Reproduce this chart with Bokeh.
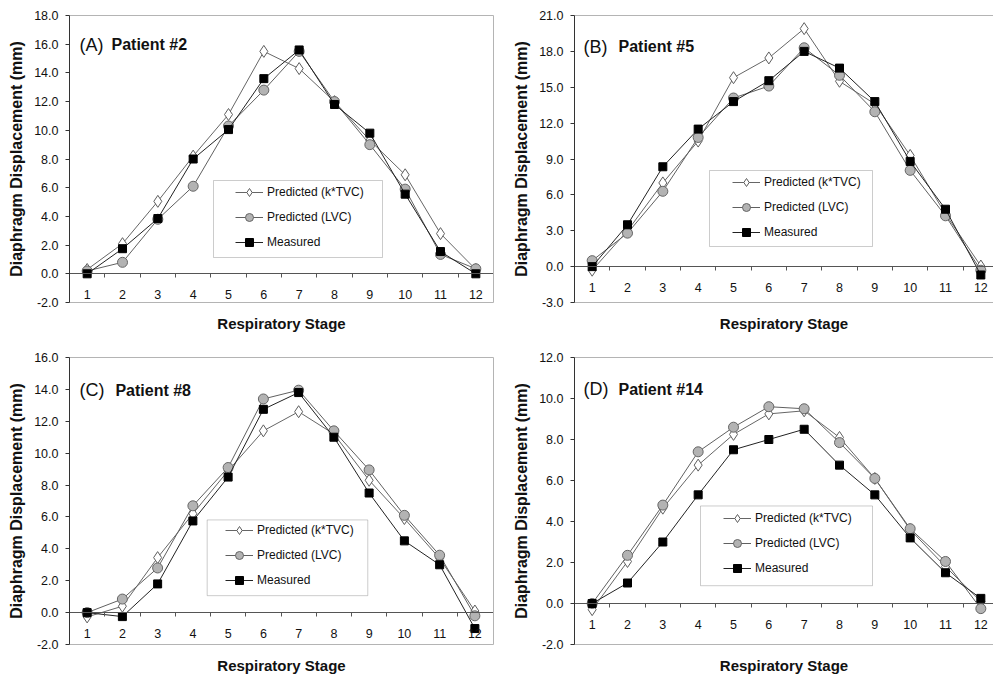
from bokeh.plotting import figure
from bokeh.models import (LinearAxis, FixedTicker, PrintfTickFormatter, Legend,
                          LegendItem, Label, BoxAnnotation, Range1d)
from bokeh.layouts import gridplot
from bokeh.embed import file_html
from bokeh.resources import INLINE

# ---------------- data ----------------
stages = list(range(1, 13))
stage_boundaries = [s + 0.5 for s in range(1, 12)]

panel_letters = ["(A)", "(B)", "(C)", "(D)"]
patients = ["Patient #2", "Patient #5", "Patient #8", "Patient #14"]
series_names = ["Predicted (k*TVC)", "Predicted (LVC)", "Measured"]

y_min = [-2.0, -3.0, -2.0, -2.0]
y_max = [18.0, 21.0, 16.0, 12.0]
y_step = [2.0, 3.0, 2.0, 2.0]

ktvc_p2 = [0.3, 2.1, 5.05, 8.2, 11.1, 15.5, 14.3, 12.0, 9.3, 6.9, 2.8, 0.3]
lvc_p2 = [0.2, 0.8, 3.8, 6.1, 10.3, 12.8, 15.5, 12.0, 9.0, 5.9, 1.35, 0.35]
meas_p2 = [0.0, 1.75, 3.85, 8.0, 10.05, 13.6, 15.6, 11.8, 9.8, 5.55, 1.55, 0.0]

ktvc_p5 = [-0.3, 3.0, 7.0, 10.5, 15.8, 17.45, 19.9, 15.5, 13.6, 9.3, 4.4, 0.05]
lvc_p5 = [0.5, 2.8, 6.3, 10.8, 14.1, 15.1, 18.3, 16.0, 12.95, 8.05, 4.25, -0.3]
meas_p5 = [0.0, 3.5, 8.35, 11.5, 13.8, 15.55, 18.0, 16.6, 13.8, 8.8, 4.8, -0.7]

ktvc_p8 = [-0.27, 0.4, 3.45, 6.2, 8.9, 11.4, 12.6, 11.2, 8.3, 5.9, 3.4, 0.1]
lvc_p8 = [0.0, 0.85, 2.8, 6.7, 9.1, 13.4, 13.95, 11.4, 8.95, 6.1, 3.6, -0.2]
meas_p8 = [0.0, -0.25, 1.8, 5.75, 8.5, 12.75, 13.8, 11.0, 7.5, 4.5, 3.0, -1.0]

ktvc_p14 = [-0.3, 2.05, 4.65, 6.75, 8.25, 9.25, 9.4, 8.1, 6.1, 3.6, 1.8, 0.1]
lvc_p14 = [0.0, 2.35, 4.8, 7.4, 8.6, 9.6, 9.5, 7.85, 6.1, 3.65, 2.05, -0.25]
meas_p14 = [0.0, 1.0, 3.0, 5.3, 7.5, 8.0, 8.5, 6.75, 5.3, 3.2, 1.5, 0.25]

series = [
    (ktvc_p2, lvc_p2, meas_p2),
    (ktvc_p5, lvc_p5, meas_p5),
    (ktvc_p8, lvc_p8, meas_p8),
    (ktvc_p14, lvc_p14, meas_p14),
]

# ---------------- layout (pixels) ----------------
FONT = "Liberation Sans"
PX_PER_STAGE = 424 / 12.0

layouts = [
    dict(w=497, h=338, bl=69, br=4, bt=15, bb=36, right=True,
         leg=(166, 50), box=(144, 313, 45, 122), tx=(10, 42), ty=29),
    dict(w=496, h=338, bl=77, br=0, bt=15, bb=36, right=False,
         leg=(158, 60), box=(135, 298, 56, 132), tx=(9, 44), ty=31),
    dict(w=497, h=338, bl=68, br=4, bt=19, bb=31, right=True,
         leg=(156, 54), box=(138, 299, 49, 125), tx=(10, 46), ty=33),
    dict(w=496, h=338, bl=77, br=0, bt=19, bb=31, right=False,
         leg=(149, 66), box=(126, 298, 59, 139), tx=(9, 44), ty=32),
]


def blank_axis(ax, color):
    ax.ticker = FixedTicker(ticks=[])
    ax.axis_line_color = color
    ax.major_tick_line_color = None
    ax.minor_tick_line_color = None
    ax.major_tick_out = 0
    ax.major_tick_in = 0
    ax.major_label_standoff = 0


def make_panel(i):
    L = layouts[i]
    fw = L["w"] - L["bl"] - L["br"]
    fh = L["h"] - L["bt"] - L["bb"]
    x0 = 0.5
    x1 = x0 + fw / PX_PER_STAGE
    y0, y1 = y_min[i], y_max[i]
    ppy = fh / (y1 - y0)

    p = figure(width=L["w"], height=L["h"], output_backend="svg",
               toolbar_location=None, x_range=Range1d(x0, x1),
               y_range=Range1d(y0, y1),
               min_border_left=L["bl"], min_border_right=L["br"],
               min_border_top=L["bt"], min_border_bottom=L["bb"])
    p.outline_line_color = None
    p.xgrid.visible = False
    p.ygrid.visible = False
    p.background_fill_color = "white"
    p.border_fill_color = "white"

    # bottom axis: frame line + title only
    bx = p.xaxis[0]
    blank_axis(bx, "#b4b4b4")
    bx.axis_label = "Respiratory Stage"
    bx.axis_label_text_font = FONT
    bx.axis_label_text_font_style = "bold"
    bx.axis_label_text_font_size = "15px"
    bx.axis_label_text_color = "#111111"
    bx.axis_label_standoff = 12

    # left axis
    ya = p.yaxis[0]
    ticks = []
    v = y0
    while v <= y1 + 1e-9:
        ticks.append(round(v, 6))
        v += y_step[i]
    ya.ticker = FixedTicker(ticks=ticks)
    ya.formatter = PrintfTickFormatter(format="%.1f")
    ya.axis_line_color = "#333333"
    ya.major_tick_line_color = "#333333"
    ya.minor_tick_line_color = None
    ya.major_tick_out = 4
    ya.major_tick_in = 0
    ya.major_label_standoff = 7
    ya.major_label_text_font = FONT
    ya.major_label_text_font_size = "12.5px"
    ya.major_label_text_color = "#111111"
    ya.axis_label = "Diaphragm Displacement (mm)"
    ya.axis_label_text_font = FONT
    ya.axis_label_text_font_style = "bold"
    ya.axis_label_text_font_size = "16px"
    ya.axis_label_text_color = "#111111"
    ya.axis_label_standoff = 6

    # top (and right) frame lines
    top = LinearAxis()
    blank_axis(top, "#b4b4b4")
    p.add_layout(top, "above")
    if L["right"]:
        rt = LinearAxis()
        blank_axis(rt, "#b4b4b4")
        p.add_layout(rt, "right")

    # category axis crossing at zero
    zx = LinearAxis(fixed_location=0)
    zx.ticker = FixedTicker(ticks=stages, minor_ticks=stage_boundaries)
    zx.axis_line_color = "#555555"
    zx.major_tick_line_color = None
    zx.major_tick_out = 0
    zx.major_tick_in = 0
    zx.minor_tick_line_color = "#555555"
    zx.minor_tick_out = 4
    zx.minor_tick_in = 0
    zx.major_label_standoff = 12
    zx.major_label_text_font = FONT
    zx.major_label_text_font_size = "12.5px"
    zx.major_label_text_color = "#111111"
    p.add_layout(zx, "below")

    k, lv, m = series[i]
    r1l = p.line(stages, k, line_color="#666666", line_width=1)
    r1m = p.scatter(stages, k, marker="diamond", size=12,
                    fill_color="white", line_color="#5e5e5e", line_width=1)
    r2l = p.line(stages, lv, line_color="#606060", line_width=1)
    r2m = p.scatter(stages, lv, marker="circle", size=10,
                    fill_color="#b3b3b3", line_color="#666666", line_width=1)
    r3l = p.line(stages, m, line_color="#222222", line_width=1)
    r3m = p.scatter(stages, m, marker="square", size=8,
                    fill_color="black", line_color="black", line_width=1)

    # panel title
    ty = y1 - L["ty"] / ppy
    p.add_layout(Label(x=x0 + L["tx"][0] / PX_PER_STAGE, y=ty, text=panel_letters[i],
                       text_font=FONT, text_font_size="18px", text_color="#111111",
                       text_baseline="middle", text_align="left"))
    p.add_layout(Label(x=x0 + L["tx"][1] / PX_PER_STAGE, y=ty, text=patients[i],
                       text_font=FONT, text_font_size="16px", text_font_style="bold",
                       text_color="#111111", text_baseline="middle", text_align="left"))

    # legend box
    bl_, br_, bb_, bt_ = L["box"]
    p.add_layout(BoxAnnotation(left=x0 + bl_ / PX_PER_STAGE, right=x0 + br_ / PX_PER_STAGE,
                               bottom=y0 + bb_ / ppy, top=y0 + bt_ / ppy,
                               fill_color="white", fill_alpha=1.0,
                               line_color="#555555", line_width=1))

    legend = Legend(items=[
        LegendItem(label=series_names[0], renderers=[r1l, r1m]),
        LegendItem(label=series_names[1], renderers=[r2l, r2m]),
        LegendItem(label=series_names[2], renderers=[r3l, r3m]),
    ], location=L["leg"], padding=0, margin=0, spacing=5,
        glyph_width=28, glyph_height=20, label_height=20, label_standoff=4,
        border_line_color=None, background_fill_alpha=0.0,
        label_text_font=FONT, label_text_font_size="12px",
        label_text_color="#111111")
    p.add_layout(legend, "center")
    return p


figs = [make_panel(i) for i in range(4)]
grid = gridplot([[figs[0], figs[1]], [figs[2], figs[3]]], toolbar_location=None)

open("out.html", "w").write(file_html(grid, INLINE))
